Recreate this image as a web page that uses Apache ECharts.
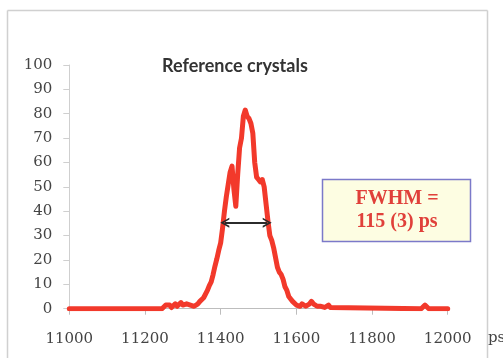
<!DOCTYPE html>
<html>
<head>
<meta charset="utf-8">
<script src="https://cdn.jsdelivr.net/npm/echarts@6/dist/echarts.min.js"></script>
<style>
html,body{margin:0;padding:0;background:#fff;}
#chart{width:503px;height:358px;}
</style>
</head>
<body>
<div id="chart"></div>
<script>
var timePs = [11000,11245,11250,11255,11260,11265,11270,11275,11280,11285,11290,11295,11300,11305,11310,11315,11320,11325,11330,11335,11340,11345,11350,11355,11360,11365,11370,11375,11380,11385,11390,11395,11400,11405,11410,11415,11420,11425,11430,11435,11440,11445,11450,11455,11460,11465,11470,11475,11480,11485,11490,11495,11500,11505,11510,11515,11520,11525,11530,11535,11540,11545,11550,11555,11560,11565,11570,11575,11580,11585,11590,11595,11600,11605,11610,11615,11620,11625,11630,11635,11640,11645,11650,11655,11660,11665,11670,11675,11680,11685,11690,11695,11930,11935,11940,11945,11950,12000];
var counts = [0,0,0.5,1.5,1,1.5,0.5,1,2,1,1.5,2.5,1.5,1,2,2.5,1.5,1,1,1,2,3,3.5,4.5,5,7.5,9.5,11,14,17.5,20.5,24,27,33,40,46,51,56,58.5,49,42,55,66,70,79,81.5,79,78,76,72,60,54,53,52,53,50,43,36,30,28,25,21,17,15,14,12,9,7.5,5,4,3,2.5,1.5,1.5,1,2,2,1,1.5,2,3,2,1.5,1,1,1,0.5,0.5,1,1.5,0.5,0,0,0.5,1.5,1,0,0];
var yTicks = [0,10,20,30,40,50,60,70,80,90,100];
var xTicks = [11000,11200,11400,11600,11800,12000];
var fwhmFrom = 11411, fwhmTo = 11523, halfMax = 35.3;
var titleText = 'Reference crystals';
var boxLines = ['FWHM =', '115 (3) ps'];
var unitLabel = 'ps';

var chart = echarts.init(document.getElementById('chart'), null, {renderer:'canvas'});
var pts = timePs.map(function(t,i){return [t, counts[i]];});
var chevron = 'path://M0,10 L5,0 L10,10 L8.2,10 L5,3.6 L1.8,10 Z';
chart.setOption({
  animation:false,
  grid:{left:69.3, right:55.3, top:65, bottom:49.3},
  xAxis:{type:'value', min:xTicks[0], max:xTicks[xTicks.length-1], interval:200,
    axisLine:{lineStyle:{color:'#bdbdbd', width:1}},
    axisTick:{show:true, length:6, inside:false, lineStyle:{color:'#bdbdbd'}},
    splitLine:{show:false},
    axisLabel:{margin:23, color:'#444', fontFamily:'DejaVu Serif', fontSize:15,
      formatter:function(v){return String(v);}}
  },
  yAxis:{type:'value', min:yTicks[0], max:yTicks[yTicks.length-1], interval:10,
    axisLine:{show:true, lineStyle:{color:'#cfcfcf', width:1}},
    axisTick:{show:true, length:6, lineStyle:{color:'#cfcfcf'}},
    splitLine:{show:false},
    axisLabel:{margin:17, color:'#444', fontFamily:'DejaVu Serif', fontSize:15,
      formatter:function(v){return String(v);}}
  },
  series:[{
    type:'line', data:pts, showSymbol:false, symbol:'none',
    lineStyle:{color:'#f2392b', width:5, join:'round', cap:'round'},
    z:3,
    markLine:{
      silent:true, animation:false,
      symbol:[chevron, chevron], symbolSize:[10,9],
      label:{show:false},
      lineStyle:{color:'#2b2b2b', width:2, type:'solid'},
      data:[[{coord:[fwhmFrom, halfMax]},{coord:[fwhmTo, halfMax]}]]
    }
  }],
  graphic:[
    {type:'line', shape:{x1:7.5,y1:10.5,x2:487.5,y2:10.5}, style:{stroke:'#d0d0d0', lineWidth:1.5}, silent:true},
    {type:'line', shape:{x1:7.5,y1:10.5,x2:7.5,y2:358}, style:{stroke:'#d0d0d0', lineWidth:1.5}, silent:true},
    {type:'text', left:488, top:331, style:{text:unitLabel, font:'15px "DejaVu Serif"', fill:'#444'}, z:10},
    {type:'line', shape:{x1:487.5,y1:10.5,x2:487.5,y2:358}, style:{stroke:'#d0d0d0', lineWidth:1.5}, silent:true, z:11},
    {type:'text', left:162, top:57, style:{text:titleText, font:'bold 18px Lato', fill:'#333'}},
    {type:'rect', shape:{x:322.5,y:179.5,width:148,height:62}, style:{fill:'#fdfde2', stroke:'#7b79c9', lineWidth:1.5}, z:20},
    {type:'text', x:397, y:210, z:21, style:{text:boxLines.join('\n'), font:'bold 20px "Liberation Serif"', fill:'#e0403a', align:'center', verticalAlign:'middle', lineHeight:23}}
  ]
});
</script>
</body>
</html>
